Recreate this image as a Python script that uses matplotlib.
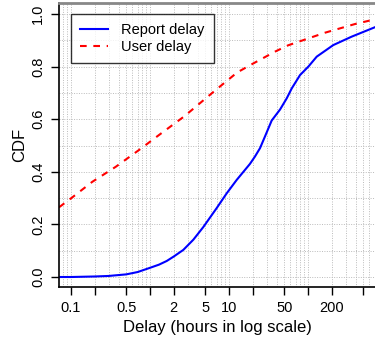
import numpy as np
import matplotlib
matplotlib.use("Agg")
import matplotlib.pyplot as plt
from matplotlib.ticker import FixedLocator, FixedFormatter, LogLocator, NullFormatter

plt.rcParams['font.family'] = ['Liberation Sans', 'DejaVu Sans']

# --- data (hours, CDF) ---
report_x = [0.0705, 0.1, 0.2, 0.3, 0.5, 0.7, 1.0, 1.3, 1.63, 2.0, 2.64, 3.54, 4.73, 6.98, 9.34, 12.5,
            18.4, 21.3, 24.7, 28.6, 34.7, 44.3, 53.7, 62.2, 79.3, 101, 129, 209, 357, 705]
report_y = [0.0, 0.0, 0.002, 0.004, 0.010, 0.019, 0.035, 0.047, 0.061, 0.078, 0.103, 0.142, 0.19, 0.262, 0.318, 0.369,
            0.430, 0.458, 0.49, 0.535, 0.595, 0.637, 0.679, 0.717, 0.768, 0.80, 0.838, 0.882, 0.914, 0.95]

user_x = [0.0705, 0.104, 0.186, 0.368, 0.726, 1.30, 2.69, 6.78, 12.7, 19.7, 24.7, 38.2, 56, 91.6, 164, 393, 705]
user_y = [0.265, 0.303, 0.362, 0.419, 0.483, 0.540, 0.610, 0.711, 0.778, 0.810, 0.826, 0.857, 0.881, 0.903,
          0.929, 0.962, 0.98]

xticks = [0.1, 0.2, 0.5, 1, 2, 5, 10, 20, 50, 100, 200, 500]
xtick_labels = ["0.1", "", "0.5", "", "2", "5", "10", "", "50", "", "200", ""]
yticks = [0.0, 0.2, 0.4, 0.6, 0.8, 1.0]

fig = plt.figure(figsize=(3.75, 3.39), dpi=100)
ax = fig.add_axes([59 / 375, 52 / 339, 1 - 59 / 375, 284 / 339])

ax.plot(report_x, report_y, color="blue", lw=1.5, label="Report delay")
ax.plot(user_x, user_y, color="red", lw=1.5, dashes=(3.2, 3.2), label="User delay")

ax.set_xscale("log")
ax.set_xlim(0.0705, 705)
ax.set_ylim(-0.038, 1.042)

ax.xaxis.set_major_locator(FixedLocator(xticks))
ax.xaxis.set_major_formatter(FixedFormatter(xtick_labels))
ax.xaxis.set_minor_locator(LogLocator(base=10, subs=np.arange(2, 10)))
ax.xaxis.set_minor_formatter(NullFormatter())
ax.set_yticks(yticks)
ax.set_yticklabels([f"{v:.1f}" for v in yticks], rotation=90, va="center")
ax.set_yticks(np.arange(0.1, 1.0, 0.2), minor=True)

ax.tick_params(axis="both", which="major", length=6, width=1, labelsize=10.5, pad=4)
ax.tick_params(axis="x", which="minor", length=0)
ax.tick_params(axis="y", which="minor", length=0)

ax.grid(True, which="both", color="#bbbbbb", linestyle=(0, (1, 1.5)), linewidth=0.7)
ax.set_axisbelow(True)

ax.spines["right"].set_visible(False)
ax.spines["top"].set_color("#888888")
ax.spines["top"].set_linewidth(2)
ax.spines["left"].set_linewidth(1.2)
ax.spines["bottom"].set_linewidth(1.2)

ax.set_xlabel("Delay (hours in log scale)", fontsize=12, labelpad=4)
ax.set_ylabel("CDF", fontsize=12, labelpad=3)

leg = ax.legend(loc="upper left", bbox_to_anchor=(12 / 316, 1 - 11 / 284), fontsize=10.5,
                frameon=True, fancybox=False, handlelength=1.9, borderpad=0.65,
                labelspacing=0.15, borderaxespad=0, handletextpad=0.9)
leg.get_frame().set_edgecolor("black")
leg.get_frame().set_linewidth(1)

fig.savefig("out.png", dpi=100)
